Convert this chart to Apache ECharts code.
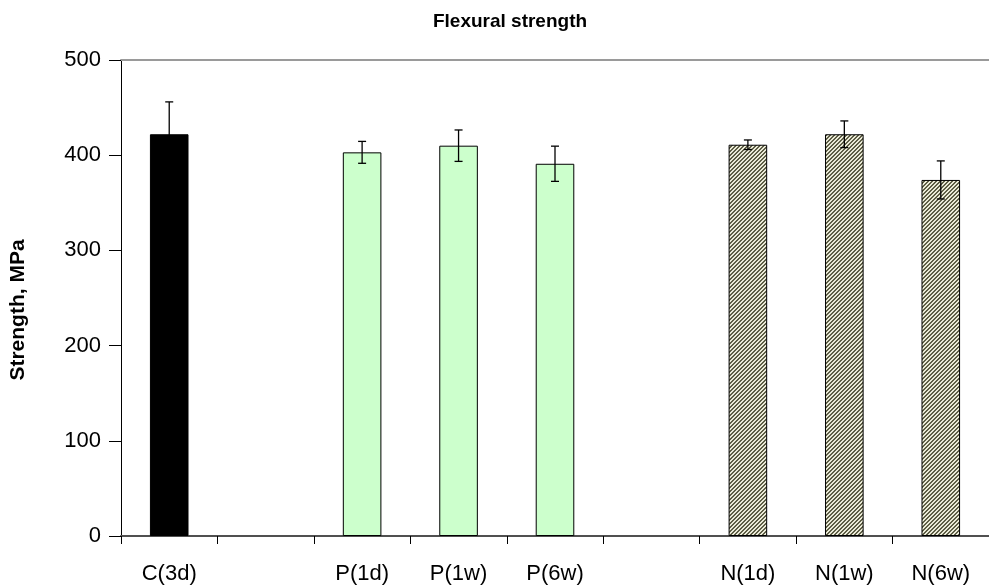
<!DOCTYPE html>
<html>
<head>
<meta charset="utf-8">
<script src="https://cdn.jsdelivr.net/npm/echarts@6/dist/echarts.min.js"></script>
<style>
  html, body { margin: 0; padding: 0; background: #fff; }
  #chart { width: 989px; height: 588px; }
</style>
</head>
<body>
<div id="chart"></div>
<script>
// Specimen groups (empty strings are spacer slots between groups)
const categories = ['C(3d)', '', 'P(1d)', 'P(1w)', 'P(6w)', '', 'N(1d)', 'N(1w)', 'N(6w)'];
// Mean flexural strength, MPa
const strength = [422, null, 403, 410, 391, null, 411, 422, 374];
// Standard deviation, MPa
const deviation = [34, null, 11.5, 16.5, 18.5, null, 5, 14, 20];
// Group of each slot: control, P-treated, N-treated
const groups = ['C', null, 'P', 'P', 'P', null, 'N', 'N', 'N'];
const yTicks = [0, 100, 200, 300, 400, 500];

// Diagonal hatch fill for the N group
function hatchPattern() {
  const c = document.createElement('canvas');
  c.width = 4; c.height = 4;
  const ctx = c.getContext('2d');
  for (let y = 0; y < 4; y++) {
    for (let x = 0; x < 4; x++) {
      ctx.fillStyle = ((x + y) % 4) < 2 ? '#5e5e46' : '#ebebd8';
      ctx.fillRect(x, y, 1, 1);
    }
  }
  return { image: c, repeat: 'repeat' };
}

const groupFill = {
  C: '#000000',
  P: '#ccffcc',
  N: hatchPattern()
};

const barData = strength.map((v, i) => ({
  value: v,
  itemStyle: groups[i] ? { color: groupFill[groups[i]], borderColor: '#000', borderWidth: 1 } : undefined
}));

const errData = strength.map((v, i) => v == null ? [i, null, null] : [i, v - deviation[i], v + deviation[i]])
  .filter(d => d[1] != null);

const FONT = '"Liberation Sans", Arial, sans-serif';

const chart = echarts.init(document.getElementById('chart'));
chart.setOption({
  animation: false,
  title: {
    text: 'Flexural strength',
    left: 505,
    top: 7,
    textAlign: 'center',
    textStyle: { fontFamily: FONT, fontWeight: 'bold', fontSize: 19, color: '#000' }
  },
  grid: { left: 120, right: -1, top: 60, bottom: 52, containLabel: false },
  xAxis: [{
    type: 'category',
    data: categories,
    axisLine: { lineStyle: { color: '#505050', width: 2 } },
    axisTick: { show: true, length: 8, lineStyle: { color: '#000', width: 1 } },
    axisLabel: { fontFamily: FONT, fontSize: 22, color: '#000', margin: 27 }
  }, {
    type: 'category',
    data: categories,
    position: 'top',
    axisLine: { show: true, lineStyle: { color: '#9a9a9a', width: 2 } },
    axisTick: { show: false },
    axisLabel: { show: false }
  }],
  yAxis: {
    type: 'value',
    min: yTicks[0],
    max: yTicks[yTicks.length - 1],
    interval: 100,
    name: 'Strength, MPa',
    nameLocation: 'middle',
    nameGap: 92,
    nameTextStyle: { fontFamily: FONT, fontWeight: 'bold', fontSize: 21, color: '#000', padding: [0, 24, 0, 0] },
    axisLine: { show: true, lineStyle: { color: '#000', width: 1 } },
    axisTick: { show: true, length: 12, lineStyle: { color: '#000' } },
    axisLabel: { fontFamily: FONT, fontSize: 22, color: '#000', margin: 20 },
    splitLine: { show: false }
  },
  series: [{
    type: 'bar',
    data: barData,
    barWidth: '40%',
    xAxisIndex: 0
  }, {
    type: 'custom',
    xAxisIndex: 0,
    data: errData,
    z: 10,
    renderItem: function (params, api) {
      const x = api.value(0);
      const lo = api.coord([x, api.value(1)]);
      const hi = api.coord([x, api.value(2)]);
      const half = 4;
      const style = { stroke: '#000', lineWidth: 1.3 };
      return {
        type: 'group',
        children: [
          { type: 'line', shape: { x1: hi[0], y1: hi[1], x2: lo[0], y2: lo[1] }, style },
          { type: 'line', shape: { x1: hi[0] - half, y1: hi[1], x2: hi[0] + half, y2: hi[1] }, style },
          { type: 'line', shape: { x1: lo[0] - half, y1: lo[1], x2: lo[0] + half, y2: lo[1] }, style }
        ]
      };
    }
  }]
});
</script>
</body>
</html>
